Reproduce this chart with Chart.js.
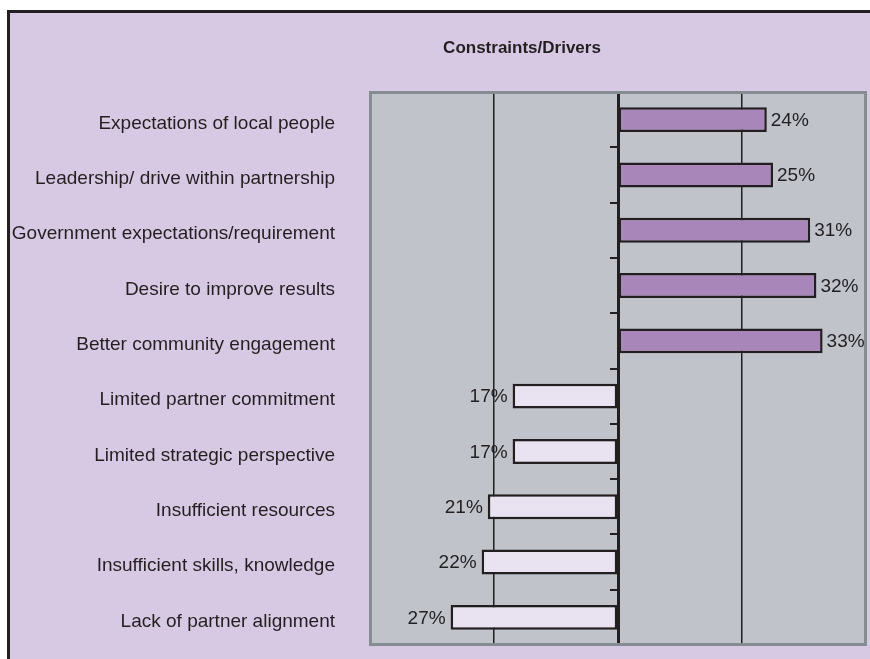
<!DOCTYPE html>
<html>
<head>
<meta charset="utf-8">
<script src="https://cdn.jsdelivr.net/npm/chart.js@4/dist/chart.umd.min.js"></script>
<style>
  html, body { margin: 0; padding: 0; background: #ffffff; }
  #wrap { width: 870px; height: 659px; position: relative; }
</style>
</head>
<body>
<div id="wrap"><canvas id="c" width="870" height="659"></canvas></div>
<script>
// ---- Data ----
const chartTitle = "Constraints/Drivers";
const categories = [
  "Expectations of local people",
  "Leadership/ drive within partnership",
  "Government expectations/requirement",
  "Desire to improve results",
  "Better community engagement",
  "Limited partner commitment",
  "Limited strategic perspective",
  "Insufficient resources",
  "Insufficient skills, knowledge",
  "Lack of partner alignment"
];
// drivers positive, constraints negative (percent)
const values = [24, 25, 31, 32, 33, -17, -17, -21, -22, -27];
const axisMin = -40;
const axisMax = 40;
const axisStep = 20;

// ---- Styles ----
const FONT = "'Liberation Sans', Arial, Helvetica, sans-serif";
const TEXT = "#231f20";
const BG = "#d7c9e3";
const PLOT_BG = "#c0c3ca";
const PLOT_BORDER = "#858d93";
const DRIVER_COLOR = "#a886ba";
const CONSTRAINT_COLOR = "#e9e3f1";

const framePlugin = {
  id: 'frame',
  beforeDraw(chart) {
    const ctx = chart.ctx;
    const {left, top, right, bottom} = chart.chartArea;
    ctx.save();
    ctx.fillStyle = '#ffffff';
    ctx.fillRect(0, 0, chart.width, chart.height);
    ctx.fillStyle = BG;
    ctx.fillRect(7, 10, chart.width - 7, chart.height - 10);
    ctx.fillStyle = TEXT;
    ctx.fillRect(7, 10, chart.width - 7, 3);
    ctx.fillRect(7, 10, 3, chart.height - 10);
    ctx.fillStyle = PLOT_BG;
    ctx.fillRect(left, top, right - left, bottom - top);
    ctx.fillStyle = TEXT;
    ctx.font = "bold 17px " + FONT;
    ctx.textAlign = 'center';
    ctx.textBaseline = 'middle';
    ctx.fillText(chartTitle, 522, 48);
    ctx.restore();
  },
  afterDatasetsDraw(chart) {
    const ctx = chart.ctx;
    const {left, top, right, bottom} = chart.chartArea;
    ctx.save();
    ctx.strokeStyle = PLOT_BORDER;
    ctx.lineWidth = 3;
    ctx.strokeRect(left + 0.5, top + 0.5, right - left - 1, bottom - top - 1);
    ctx.restore();
  }
};

const valueLabelPlugin = {
  id: 'valueLabels',
  afterDraw(chart) {
    const ctx = chart.ctx;
    const meta = chart.getDatasetMeta(0);
    ctx.save();
    ctx.font = "19px " + FONT;
    ctx.fillStyle = TEXT;
    ctx.textBaseline = 'middle';
    meta.data.forEach((bar, i) => {
      const v = values[i];
      const txt = Math.abs(v) + '%';
      if (v >= 0) {
        ctx.textAlign = 'left';
        ctx.fillText(txt, bar.x + 4, bar.y + 1);
      } else {
        ctx.textAlign = 'right';
        ctx.fillText(txt, bar.x - 5, bar.y + 1);
      }
    });
    ctx.restore();
  }
};

new Chart(document.getElementById('c'), {
  type: 'bar',
  data: {
    labels: categories,
    datasets: [{
      data: values,
      backgroundColor: values.map(v => v >= 0 ? DRIVER_COLOR : CONSTRAINT_COLOR),
      borderColor: TEXT,
      borderWidth: 2.5,
      borderSkipped: false,
      categoryPercentage: 0.9,
      barPercentage: 0.5
    }]
  },
  options: {
    indexAxis: 'y',
    responsive: false,
    animation: false,
    devicePixelRatio: 1,
    layout: { padding: { top: 92, right: 4, bottom: 14, left: 0 } },
    plugins: {
      legend: { display: false },
      title: { display: false },
      tooltip: { enabled: false }
    },
    scales: {
      x: {
        type: 'linear',
        min: axisMin,
        max: axisMax,
        afterFit: s => { s.height = 0; },
        ticks: { display: false, stepSize: axisStep },
        border: { display: false },
        grid: {
          drawTicks: false,
          color: ctx => (ctx.tick && (ctx.tick.value === axisMin || ctx.tick.value === axisMax)) ? 'rgba(0,0,0,0)' : TEXT,
          lineWidth: 1.5
        }
      },
      y: {
        type: 'category',
        position: 'left',
        afterFit: s => { s.width = 370; s.paddingTop = 0; s.paddingBottom = 0; },
        border: { display: false },
        grid: { display: false, drawTicks: true, tickLength: 35 },
        ticks: {
          padding: 0,
          labelOffset: 4,
          color: TEXT,
          font: { family: FONT, size: 19 }
        }
      },
      y2: {
        type: 'category',
        axis: 'y',
        position: { x: 0 },
        labels: categories,
        offset: true,
        ticks: { display: false },
        border: { display: true, color: TEXT, width: 3 },
        grid: {
          offset: true,
          drawOnChartArea: false,
          drawTicks: true,
          tickLength: 7,
          color: TEXT,
          lineWidth: 2
        }
      }
    }
  },
  plugins: [framePlugin, valueLabelPlugin]
});
</script>
</body>
</html>
